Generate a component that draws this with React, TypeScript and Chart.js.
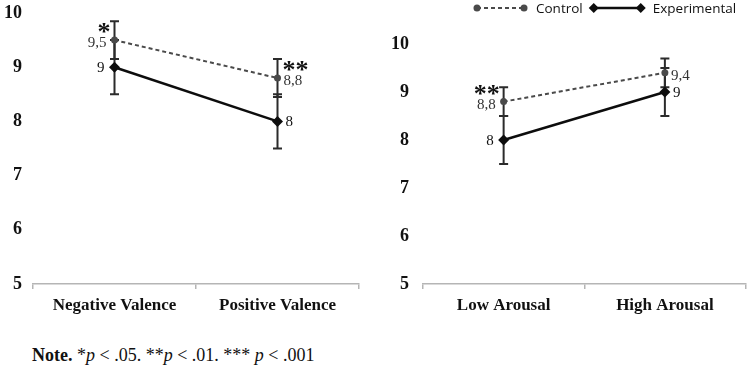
import React, { useEffect, useRef } from "react";
import { Chart, registerables, Plugin } from "chart.js";

Chart.register(...registerables);

// Mean ratings with error bars, two panels: valence and arousal
const valenceCategories = ["Negative Valence", "Positive Valence"];
const valenceControl = [9.5, 8.8];
const valenceExperimental = [9, 8];
const valenceControlError = [0.35, 0.35];
const valenceExperimentalError = [0.5, 0.5];
const valenceSignificance = ["*", "**"];

const arousalCategories = ["Low Arousal", "High Arousal"];
const arousalControl = [8.8, 9.4];
const arousalExperimental = [8, 9];
const arousalControlError = [0.3, 0.3];
const arousalExperimentalError = [0.5, 0.5];
const arousalSignificance = ["**", ""];

const yMin = 5;
const yMax = 10;
const yStep = 1;

const seriesNames = ["Control", "Experimental"];

const SERIF = '"Liberation Serif", "Times New Roman", serif';
const SANS = '"Open Sans", "Noto Sans", sans-serif';
const CONTROL_COLOR = "#4a4a4a";
const EXP_COLOR = "#0d0d0d";
const ERROR_COLOR = "#2b2b2b";

type PanelData = {
  categories: string[];
  control: number[];
  experimental: number[];
  controlError: number[];
  experimentalError: number[];
  significance: string[];
};

const fmt = (v: number) => String(v).replace(".", ",");

function drawDiamond(ctx: CanvasRenderingContext2D, x: number, y: number, r: number) {
  ctx.beginPath();
  ctx.moveTo(x, y - r);
  ctx.lineTo(x + r, y);
  ctx.lineTo(x, y + r);
  ctx.lineTo(x - r, y);
  ctx.closePath();
  ctx.fill();
}

function annotationPlugin(panel: PanelData): Plugin {
  const errors = [panel.controlError, panel.experimentalError];
  return {
    id: "meanAnnotations",
    beforeDatasetsDraw(chart) {
      const ctx = chart.ctx;
      const yScale = chart.scales.y;
      chart.data.datasets.forEach((ds, di) => {
        const meta = chart.getDatasetMeta(di);
        meta.data.forEach((pt, i) => {
          const v = ds.data[i] as number;
          const e = errors[di][i];
          const top = yScale.getPixelForValue(v + e);
          const bot = yScale.getPixelForValue(v - e);
          ctx.save();
          ctx.strokeStyle = ERROR_COLOR;
          ctx.lineWidth = 2;
          ctx.beginPath();
          ctx.moveTo(pt.x, top);
          ctx.lineTo(pt.x, bot);
          ctx.moveTo(pt.x - 4.5, top);
          ctx.lineTo(pt.x + 4.5, top);
          ctx.moveTo(pt.x - 4.5, bot);
          ctx.lineTo(pt.x + 4.5, bot);
          ctx.stroke();
          ctx.restore();
        });
      });
    },
    afterDatasetsDraw(chart) {
      const ctx = chart.ctx;
      chart.data.datasets.forEach((ds, di) => {
        const meta = chart.getDatasetMeta(di);
        meta.data.forEach((pt, i) => {
          const v = ds.data[i] as number;
          const text = fmt(v);
          const leftSide = i === 0;
          const dx = di === 0 ? (leftSide ? 8 : 6) : leftSide ? 10 : 8;
          const dy = di === 0 ? 3 : 1;
          ctx.save();
          ctx.font = `15px ${SERIF}`;
          ctx.fillStyle = di === 0 ? "#333" : "#111";
          ctx.textBaseline = "middle";
          ctx.textAlign = leftSide ? "right" : "left";
          const lx = leftSide ? pt.x - dx : pt.x + dx;
          const ly = pt.y + dy;
          ctx.fillText(text, lx, ly);
          const sig = di === 0 ? panel.significance[i] : "";
          if (sig) {
            // significance stars sit above the control label, flush to the point side
            ctx.font = `bold 26px ${SERIF}`;
            ctx.textAlign = leftSide ? "right" : "left";
            ctx.textBaseline = "alphabetic";
            const m = ctx.measureText(sig);
            const sx = leftSide ? lx + 4 : lx - 1;
            const cy = ly - 15;
            ctx.fillStyle = "#111";
            ctx.fillText(sig, sx, cy + (m.actualBoundingBoxAscent - m.actualBoundingBoxDescent) / 2);
          }
          ctx.restore();
        });
      });
    },
  };
}

const legendPlugin: Plugin = {
  id: "lineLegend",
  afterDraw(chart) {
    const ctx = chart.ctx;
    const y = 8;
    let x = chart.chartArea.left + 54;
    chart.data.datasets.forEach((ds, di) => {
      const lineLen = 47;
      ctx.save();
      ctx.strokeStyle = di === 0 ? CONTROL_COLOR : EXP_COLOR;
      ctx.fillStyle = di === 0 ? CONTROL_COLOR : EXP_COLOR;
      ctx.lineWidth = di === 0 ? 2 : 2.5;
      ctx.setLineDash(di === 0 ? [4, 3] : []);
      ctx.beginPath();
      ctx.moveTo(x, y);
      ctx.lineTo(x + lineLen, y);
      ctx.stroke();
      ctx.setLineDash([]);
      if (di === 0) {
        [x, x + lineLen].forEach((px) => {
          ctx.beginPath();
          ctx.arc(px, y, 3.5, 0, Math.PI * 2);
          ctx.fill();
        });
      } else {
        drawDiamond(ctx, x, y, 5);
        drawDiamond(ctx, x + lineLen, y, 5);
      }
      ctx.font = `13.5px ${SANS}`;
      ctx.fillStyle = "#111";
      ctx.textBaseline = "middle";
      ctx.textAlign = "left";
      const label = String(ds.label);
      ctx.fillText(label, x + lineLen + 12, y + 1);
      x += lineLen + 12 + ctx.measureText(label).width + 11;
      ctx.restore();
    });
  },
};

type PanelProps = {
  panel: PanelData;
  width: number;
  height: number;
  left: number;
  legend: boolean;
  padding: { left: number; right: number; top: number; bottom: number };
  labelPad: number;
};

function Panel({ panel, width, height, left, legend, padding, labelPad }: PanelProps) {
  const ref = useRef<HTMLCanvasElement | null>(null);
  useEffect(() => {
    if (!ref.current) return;
    const plugins: Plugin[] = [annotationPlugin(panel)];
    if (legend) plugins.push(legendPlugin);
    const chart = new Chart(ref.current, {
      type: "line",
      data: {
        labels: panel.categories,
        datasets: [
          {
            label: seriesNames[0],
            data: panel.control,
            borderColor: CONTROL_COLOR,
            backgroundColor: CONTROL_COLOR,
            borderWidth: 2,
            borderDash: [4, 3],
            pointStyle: "circle",
            pointRadius: 3.5,
            pointBorderWidth: 0,
            pointBackgroundColor: CONTROL_COLOR,
          },
          {
            label: seriesNames[1],
            data: panel.experimental,
            borderColor: EXP_COLOR,
            backgroundColor: EXP_COLOR,
            borderWidth: 2.5,
            pointStyle: "rectRot",
            pointRadius: 5.5,
            pointBorderWidth: 0,
            pointBackgroundColor: EXP_COLOR,
          },
        ],
      },
      options: {
        responsive: false,
        animation: false,
        devicePixelRatio: 1,
        events: [],
        layout: { padding },
        plugins: {
          legend: { display: false },
          tooltip: { enabled: false },
        },
        scales: {
          x: {
            type: "category",
            offset: true,
            grid: {
              display: true,
              offset: true,
              drawOnChartArea: false,
              drawTicks: true,
              tickLength: 5,
              color: "#b5b5b5",
              lineWidth: 1.5,
            },
            border: { display: true, color: "#b5b5b5", width: 1.5 },
            ticks: {
              padding: 6,
              color: "#111",
              font: { family: SERIF, size: 17, weight: "bold" },
            },
            afterFit(scale) {
              scale.height = 36;
              scale.paddingLeft = 0;
              scale.paddingRight = 0;
            },
          },
          y: {
            min: yMin,
            max: yMax,
            grid: { display: false, drawTicks: false },
            border: { display: false },
            ticks: {
              stepSize: yStep,
              padding: labelPad,
              color: "#111",
              font: { family: SERIF, size: 18, weight: "bold" },
            },
            afterFit(scale) {
              scale.width = 33;
              scale.paddingTop = 0;
              scale.paddingBottom = 0;
            },
          },
        },
      },
      plugins,
    });
    return () => chart.destroy();
  }, []);
  return (
    <canvas
      ref={ref}
      width={width}
      height={height}
      style={{ position: "absolute", left, top: 0, width, height }}
    />
  );
}

export default function App() {
  const valence: PanelData = {
    categories: valenceCategories,
    control: valenceControl,
    experimental: valenceExperimental,
    controlError: valenceControlError,
    experimentalError: valenceExperimentalError,
    significance: valenceSignificance,
  };
  const arousal: PanelData = {
    categories: arousalCategories,
    control: arousalControl,
    experimental: arousalExperimental,
    controlError: arousalControlError,
    experimentalError: arousalExperimentalError,
    significance: arousalSignificance,
  };
  return (
    <div
      style={{
        position: "absolute",
        left: 0,
        top: 0,
        width: 751,
        height: 380,
        background: "#fff",
        overflow: "hidden",
      }}
    >
      <Panel
        panel={valence}
        width={370}
        height={320}
        left={0}
        legend={false}
        padding={{ left: 0, right: 11, top: 13, bottom: 0 }}
        labelPad={11}
      />
      <Panel
        panel={arousal}
        width={381}
        height={320}
        left={370}
        legend={true}
        padding={{ left: 20, right: 3, top: 44, bottom: 0 }}
        labelPad={14}
      />
      <div
        style={{
          position: "absolute",
          left: 32,
          top: 345,
          fontFamily: SERIF,
          fontSize: 18,
          lineHeight: "20px",
          color: "#111",
          whiteSpace: "nowrap",
        }}
      >
        <b>Note.</b> *<i>p</i> &lt; .05. **<i>p</i> &lt; .01. *** <i>p</i> &lt; .001
      </div>
    </div>
  );
}
